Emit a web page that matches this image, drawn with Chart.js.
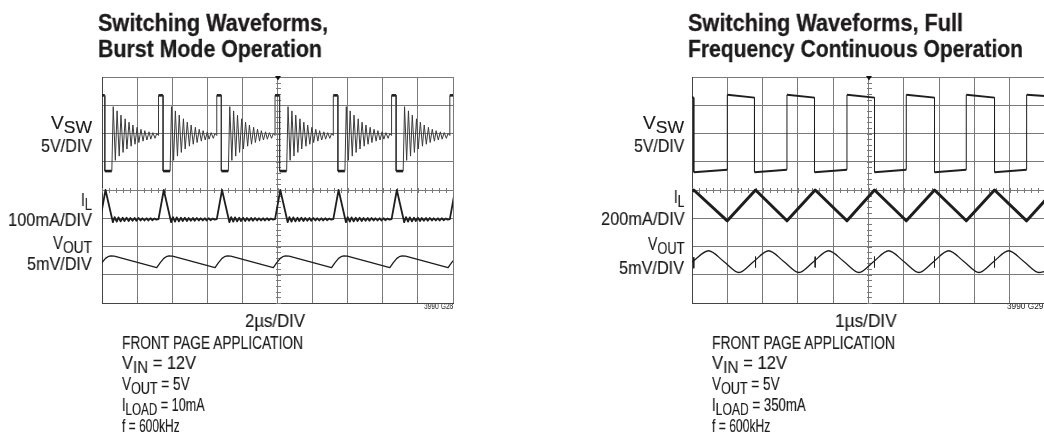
<!DOCTYPE html>
<html>
<head>
<meta charset="utf-8">
<script src="https://cdn.jsdelivr.net/npm/chart.js@4.4.1/dist/chart.umd.min.js"></script>
<style>
  html, body { margin: 0; padding: 0; background: #fff; }
  body { width: 1044px; height: 443px; overflow: hidden; position: relative;
         font-family: "Liberation Sans Narrow", "Liberation Sans", Arial, sans-serif; color: #1c1a1b; }
  .t { position: absolute; white-space: nowrap; line-height: 1; transform-origin: 0 0; will-change: transform;
       -webkit-text-stroke: 0.15px #1c1a1b; }
  .b { font-weight: bold; -webkit-text-stroke: 0.3px #1c1a1b; }
  .s { -webkit-text-stroke: 0; }
  .t sub { font-size: 0.92em; vertical-align: baseline; position: relative; top: 0.24em; }
  .box { position: absolute; }
  #boxL { left: 101px; top: 76px; width: 353px; height: 228px; }
  #boxR { left: 691px; top: 76px; width: 355px; height: 228px; }
</style>
</head>
<body>
<!-- left panel texts -->
<div class="t b" data-x="97.7" data-base="31" data-w="230" data-size="23.8">Switching Waveforms,</div>
<div class="t b" data-x="97.7" data-base="57.3" data-w="224" data-size="23.8">Burst Mode Operation</div>
<div class="t" data-x="92" data-align="right" data-base="129.3" data-w="41">V<sub>SW</sub></div>
<div class="t" data-x="92" data-align="right" data-base="152.3" data-w="51">5V/DIV</div>
<div class="t" data-x="92" data-align="right" data-base="206.7" data-w="11">I<sub>L</sub></div>
<div class="t" data-x="92" data-align="right" data-base="226" data-w="84">100mA/DIV</div>
<div class="t" data-x="92" data-align="right" data-base="249.3" data-w="39">V<sub>OUT</sub></div>
<div class="t" data-x="92" data-align="right" data-base="270" data-w="64.7">5mV/DIV</div>
<div class="t" data-x="275" data-align="center" data-base="327" data-w="60">2µs/DIV</div>
<div class="t s" data-x="453" data-align="right" data-base="309.3" data-w="29.3" data-size="8.3">3990 G28</div>
<div class="t" data-x="122.3" data-base="349" data-w="181">FRONT PAGE APPLICATION</div>
<div class="t" data-x="122.3" data-base="369.6" data-w="74">V<sub>IN</sub> = 12V</div>
<div class="t" data-x="122.3" data-base="390.4" data-w="67.7">V<sub>OUT</sub> = 5V</div>
<div class="t" data-x="122.3" data-base="411.3" data-w="82.7">I<sub>LOAD</sub> = 10mA</div>
<div class="t" data-x="122.3" data-base="432.3" data-w="57.7">f = 600kHz</div>

<!-- right panel texts -->
<div class="t b" data-x="688.3" data-base="31" data-w="275" data-size="23.8">Switching Waveforms, Full</div>
<div class="t b" data-x="688.3" data-base="57.3" data-w="335" data-size="23.8">Frequency Continuous Operation</div>
<div class="t" data-x="684.3" data-align="right" data-base="129.3" data-w="41">V<sub>SW</sub></div>
<div class="t" data-x="684.3" data-align="right" data-base="152.3" data-w="50.3">5V/DIV</div>
<div class="t" data-x="684.3" data-align="right" data-base="203" data-w="10.5">I<sub>L</sub></div>
<div class="t" data-x="684.3" data-align="right" data-base="225" data-w="83.7">200mA/DIV</div>
<div class="t" data-x="684.3" data-align="right" data-base="250" data-w="36.5">V<sub>OUT</sub></div>
<div class="t" data-x="684.3" data-align="right" data-base="274" data-w="65">5mV/DIV</div>
<div class="t" data-x="866" data-align="center" data-base="327" data-w="61.7">1µs/DIV</div>
<div class="t s" data-x="1043" data-align="right" data-base="309.3" data-w="36" data-size="8.3">3990 G29</div>
<div class="t" data-x="712.3" data-base="349" data-w="183">FRONT PAGE APPLICATION</div>
<div class="t" data-x="712.3" data-base="369.6" data-w="75">V<sub>IN</sub> = 12V</div>
<div class="t" data-x="712.3" data-base="390.4" data-w="67.7">V<sub>OUT</sub> = 5V</div>
<div class="t" data-x="712.3" data-base="411.3" data-w="93.7">I<sub>LOAD</sub> = 350mA</div>
<div class="t" data-x="712.3" data-base="432.3" data-w="58.3">f = 600kHz</div>

<div class="box" id="boxL"><canvas id="chartL"></canvas></div>
<div class="box" id="boxR"><canvas id="chartR"></canvas></div>

<script>
// ---------- screen grid (divisions) ----------
const xDivs = 10;
const yDivs = 8;

// ---------- LEFT: Burst Mode operation (values in divisions, y = 0 at bottom) ----------
// times (div) of the V_SW rising edges that start every burst
const burstRiseL = [-0.05, 1.61, 3.27, 4.93, 6.59, 8.25, 9.91];
// V_SW shape of one burst, offset (div) from its rising edge, and level (div)
const vswBurstDt = [0, 0, 0.13, 0.13, 0.33, 0.37, 0.43, 0.48, 0.54, 0.59, 0.65, 0.71, 0.76, 0.82, 0.88, 0.93, 0.99, 1.05, 1.10, 1.16, 1.22, 1.27, 1.33, 1.39, 1.44, 1.50, 1.56, 1.61];
const vswBurstV  = [5.93, 7.35, 7.35, 4.67, 4.67, 6.95, 5.05, 6.80, 5.20, 6.65, 5.33, 6.52, 5.45, 6.40, 5.55, 6.30, 5.62, 6.22, 5.68, 6.15, 5.73, 6.10, 5.77, 6.06, 5.80, 6.03, 5.83, 6.00];
// I_L shape of one burst
const ilBurstDt = [0, 0.15, 0.36, 0.41, 0.47, 0.52, 0.58, 0.64, 0.69, 0.75, 0.81, 0.86, 0.92, 0.98, 1.03, 1.09, 1.15, 1.20, 1.26, 1.32, 1.37, 1.43, 1.49, 1.54, 1.60];
const ilBurstV  = [2.97, 4.00, 2.86, 3.04, 2.88, 3.03, 2.89, 3.02, 2.90, 3.02, 2.90, 3.01, 2.91, 3.01, 2.91, 3.01, 2.92, 3.00, 2.92, 3.00, 2.92, 3.00, 2.93, 2.99, 2.95];
// V_OUT shape of one burst
const voutBurstDt = [-0.05, 0.05, 0.15, 0.22, 0.30, 0.40, 1.61];
const voutBurstV  = [1.25, 1.43, 1.58, 1.64, 1.67, 1.66, 1.25];

// ---------- RIGHT: full frequency continuous operation ----------
const vswRX = [0, 0.05, 0.05, 1.00, 1.00, 1.77, 1.77, 2.69, 2.69, 3.47, 3.47, 4.39, 4.39, 5.17, 5.17, 6.07, 6.07, 6.87, 6.87, 7.77, 7.77, 8.57, 8.57, 9.48, 9.48, 10];
const vswRY = [7.28, 7.27, 4.63, 4.72, 7.37, 7.27, 4.63, 4.72, 7.37, 7.27, 4.63, 4.72, 7.37, 7.27, 4.63, 4.72, 7.37, 7.27, 4.63, 4.72, 7.37, 7.27, 4.63, 4.72, 7.37, 7.33];
const ilRX = [0, 0.05, 1.00, 1.80, 2.69, 3.49, 4.39, 5.17, 6.07, 6.87, 7.77, 8.57, 9.48, 10];
const ilRY = [3.94, 4.00, 2.91, 4.00, 2.91, 4.00, 2.91, 4.00, 2.91, 4.00, 2.91, 4.00, 2.91, 3.63];
const voutRX = [0, 0.47, 0.90, 1.33, 1.75, 2.17, 2.60, 3.03, 3.45, 3.87, 4.30, 4.73, 5.15, 5.57, 6.00, 6.43, 6.85, 7.27, 7.70, 8.13, 8.55, 8.97, 9.40, 9.83, 10];
const voutRY = [1.45, 1.85, 1.47, 1.08, 1.47, 1.85, 1.47, 1.08, 1.47, 1.85, 1.47, 1.08, 1.47, 1.85, 1.47, 1.08, 1.47, 1.85, 1.47, 1.08, 1.47, 1.85, 1.47, 1.08, 1.12];
const spikeRX   = [0.05, 1.80, 3.49, 5.17, 6.87, 8.57];
const spikeRTop = [1.62, 1.64, 1.64, 1.64, 1.64, 1.64];
const spikeRBot = [1.23, 1.26, 1.26, 1.26, 1.26, 1.26];

// ---------- build point tables ----------
function fromShape(starts, dt, v) {
  const pts = [];
  starts.forEach(s => dt.forEach((d, i) => pts.push({ x: s + d, y: v[i] })));
  return pts;
}
function pairs(xs, ys) { return xs.map((x, i) => ({ x: x, y: ys[i] })); }
function spikes(xs, tops, bots) {
  const pts = [];
  xs.forEach((x, i) => { pts.push({ x: x, y: tops[i] }, { x: x, y: bots[i] }, { x: x, y: null }); });
  return pts;
}

const ink = '#1e1e1e';
const gridColor = '#7a7a7a';

const scopePlugin = {
  id: 'scope',
  beforeDatasetsDraw(chart) {
    const { ctx, scales: { x, y } } = chart;
    const cx = Math.round(x.getPixelForValue(xDivs / 2)) + 0.5;
    const cy = Math.round(y.getPixelForValue(yDivs / 2)) + 0.5;
    ctx.save();
    ctx.strokeStyle = gridColor;
    ctx.lineWidth = 1;
    ctx.beginPath();
    for (let k = 0; k <= yDivs * 5; k++) {
      const py = Math.round(y.getPixelForValue(k / 5)) + 0.5;
      ctx.moveTo(cx - 2.5, py); ctx.lineTo(cx + 2.5, py);
    }
    for (let k = 0; k <= xDivs * 5; k++) {
      const px = Math.round(x.getPixelForValue(k / 5)) + 0.5;
      ctx.moveTo(px, cy - 2.5); ctx.lineTo(px, cy + 2.5);
    }
    ctx.stroke();
    ctx.restore();
  },
  afterDraw(chart) {
    const { ctx, scales: { x, y } } = chart;
    const cx = x.getPixelForValue(xDivs / 2) + 0.5;
    const top = y.getPixelForValue(yDivs);
    ctx.save();
    ctx.fillStyle = '#111';
    ctx.beginPath();
    ctx.moveTo(cx - 3, top - 1);
    ctx.lineTo(cx + 3, top - 1);
    ctx.lineTo(cx, top + 3.5);
    ctx.closePath();
    ctx.fill();
    ctx.restore();
  }
};

function axisOpts(max) {
  return {
    type: 'linear', min: 0, max: max,
    ticks: { display: false, stepSize: 1 },
    grid: { color: gridColor, lineWidth: 1, drawTicks: false },
    border: { display: true, color: '#444', width: 1 }
  };
}

function makeScope(id, datasets) {
  return new Chart(document.getElementById(id), {
    type: 'line',
    data: { datasets: datasets },
    options: {
      animation: false,
      responsive: true,
      maintainAspectRatio: false,
      layout: { padding: 1 },
      events: [],
      plugins: { legend: { display: false }, tooltip: { enabled: false } },
      elements: { point: { radius: 0 }, line: { tension: 0, borderJoinStyle: 'round' } },
      scales: { x: axisOpts(xDivs), y: axisOpts(yDivs) }
    },
    plugins: [scopePlugin]
  });
}

const isFlat = (ctx, tol) => Math.abs(ctx.p0.parsed.y - ctx.p1.parsed.y) < tol;

makeScope('chartL', [
  { label: 'V_SW', data: fromShape(burstRiseL, vswBurstDt, vswBurstV), borderColor: ink, borderWidth: 1, clip: 0,
    segment: { borderWidth: c => (isFlat(c, 0.02) ? 2.6 : 1), borderColor: c => (isFlat(c, 0.02) ? ink : '#3a3a3a') } },
  { label: 'I_L', data: fromShape(burstRiseL, ilBurstDt, ilBurstV), borderColor: ink, borderWidth: 1.8, clip: 0 },
  { label: 'V_OUT', data: fromShape(burstRiseL, voutBurstDt, voutBurstV), borderColor: ink, borderWidth: 1.3, clip: 0 }
]);

makeScope('chartR', [
  { label: 'V_SW', data: pairs(vswRX, vswRY), borderColor: ink, borderWidth: 1.0, clip: 0,
    segment: { borderWidth: c => (isFlat(c, 0.3) ? 2.0 : 1.0) } },
  { label: 'I_L', data: pairs(ilRX, ilRY), borderColor: ink, borderWidth: 3, clip: 0 },
  { label: 'V_OUT', data: pairs(voutRX, voutRY), borderColor: ink, borderWidth: 1.3, clip: 0,
    cubicInterpolationMode: 'monotone' },
  { label: 'V_OUT spikes', data: spikes(spikeRX, spikeRTop, spikeRBot), borderColor: ink, borderWidth: 1, clip: 0, spanGaps: false }
]);

// ---------- text placement (condensed lettering via horizontal scaling) ----------
function placeTexts() {
  document.querySelectorAll('.t').forEach(el => {
    const F = +(el.dataset.size || 18.3);
    el.style.fontSize = F + 'px';
    el.style.transform = 'none';
    const nat = el.getBoundingClientRect().width;
    const W = +el.dataset.w;
    let left = +el.dataset.x;
    if (el.dataset.align === 'right') left -= W;
    else if (el.dataset.align === 'center') left -= W / 2;
    el.style.left = left + 'px';
    el.style.top = (+el.dataset.base - 0.8465 * F) + 'px';
    el.style.transform = 'scaleX(' + (W / nat).toFixed(4) + ') translateZ(0)';
  });
}
placeTexts();
if (document.fonts && document.fonts.ready) document.fonts.ready.then(placeTexts);
</script>
</body>
</html>
